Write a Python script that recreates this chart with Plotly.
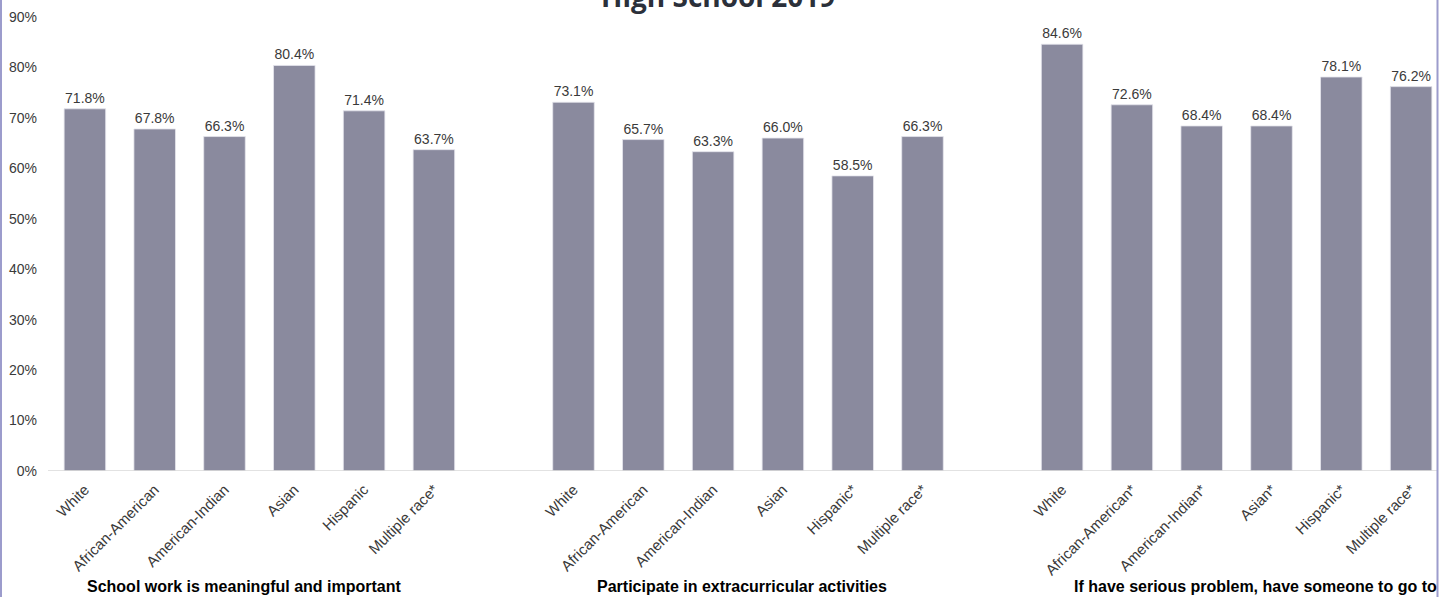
import plotly.graph_objects as go

# Survey items (one group of bars each)
groups = [
    "School work is meaningful and important",
    "Participate in extracurricular activities",
    "If have serious problem, have someone to go to",
]

# Race/ethnicity labels per group (* = flagged difference)
labels_work = ["White", "African-American", "American-Indian", "Asian", "Hispanic", "Multiple race*"]
labels_extra = ["White", "African-American", "American-Indian", "Asian", "Hispanic*", "Multiple race*"]
labels_support = ["White", "African-American*", "American-Indian*", "Asian*", "Hispanic*", "Multiple race*"]

# Percent of students agreeing
pct_work = [71.8, 67.8, 66.3, 80.4, 71.4, 63.7]
pct_extra = [73.1, 65.7, 63.3, 66.0, 58.5, 66.3]
pct_support = [84.6, 72.6, 68.4, 68.4, 78.1, 76.2]

title_text = "High School 2019"

all_labels = [labels_work, labels_extra, labels_support]
all_values = [pct_work, pct_extra, pct_support]

# Lay the groups out on one numeric axis with an empty slot between groups
xs, ys, ticks = [], [], []
for g, (labs, vals) in enumerate(zip(all_labels, all_values)):
    for i, (lab, v) in enumerate(zip(labs, vals)):
        xs.append(g * 7 + i)
        ys.append(v / 100)
        ticks.append(lab)

W, H = 1447, 597
ML, MR, MT, MB = 50, 1, 16.7, 126
PW = W - ML - MR
PH = H - MT - MB

def px_x(p):
    return (p - ML) / PW

def px_y(p):
    return 1 - (p - MT) / PH

BAR = "#8a8a9e"
TXT = "#3a3a3a"
FONT = "Liberation Sans"

fig = go.Figure(
    go.Bar(
        x=xs,
        y=ys,
        width=0.595,
        marker=dict(color=BAR, line=dict(color="#e4e4ec", width=0.8)),
        texttemplate="%{y:.1%}",
        textposition="outside",
        textfont=dict(family=FONT, size=14, color=TXT),
        cliponaxis=False,
        hoverinfo="skip",
    )
)

fig.update_xaxes(
    range=[-0.5, 19.5],
    tickmode="array",
    tickvals=xs,
    ticktext=ticks,
    tickangle=-45,
    tickfont=dict(family=FONT, size=15, color=TXT),
    ticklabelstandoff=6,
    showgrid=False,
    zeroline=False,
    showline=False,
    ticks="",
)
fig.update_yaxes(
    range=[0, 0.9],
    dtick=0.1,
    tickformat=".0%",
    tickfont=dict(family=FONT, size=14, color=TXT),
    showgrid=False,
    zeroline=False,
    showline=False,
    ticks="",
    ticklabelstandoff=12,
)

shapes = [
    # baseline
    dict(type="line", xref="paper", yref="y", x0=px_x(48), x1=px_x(1437), y0=0, y1=0,
         line=dict(color="#d9d9d9", width=1.3)),
    # outer frame sides
    dict(type="line", xref="paper", yref="paper", x0=px_x(1), x1=px_x(1), y0=px_y(-5), y1=px_y(H + 5),
         line=dict(color="#9c9ccc", width=2)),
    dict(type="line", xref="paper", yref="paper", x0=px_x(1437.5), x1=px_x(1437.5), y0=px_y(-5), y1=px_y(H + 5),
         line=dict(color="#9c9ccc", width=2)),
]

group_centers_px = [243.8, 742, 1255]
annotations = [
    dict(text=f"<b>{t}</b>", xref="paper", yref="paper", x=px_x(cx), y=px_y(586.5),
         xanchor="center", yanchor="middle", showarrow=False,
         font=dict(family=FONT, size=16, color="#000000"))
    for t, cx in zip(groups, group_centers_px)
]
annotations.append(
    dict(text=f"<b>{title_text}</b>", xref="paper", yref="paper", x=px_x(718), y=px_y(-4.5),
         xanchor="center", yanchor="middle", showarrow=False,
         font=dict(family="Open Sans", size=28, color="#2b303a"))
)

fig.update_layout(
    width=W,
    height=H,
    margin=dict(l=ML, r=MR, t=MT, b=MB, pad=0),
    paper_bgcolor="white",
    plot_bgcolor="white",
    showlegend=False,
    shapes=shapes,
    annotations=annotations,
)

fig.write_html("out.html")
